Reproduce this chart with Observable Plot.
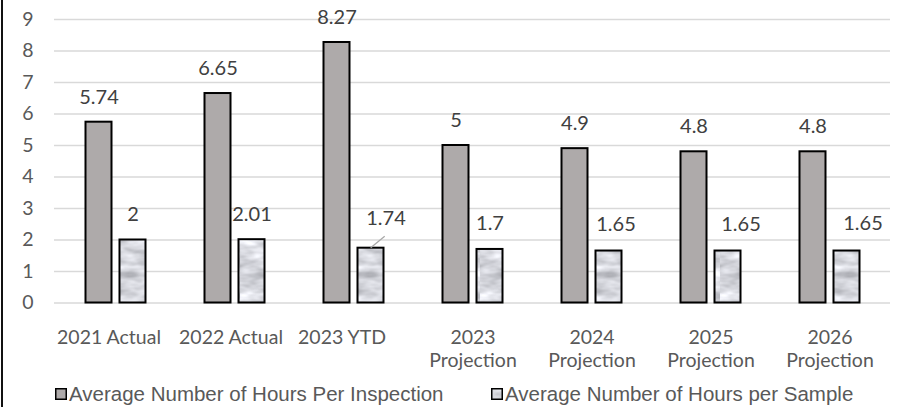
<!DOCTYPE html>
<html>
<head>
<meta charset="utf-8">
<script src="https://cdn.jsdelivr.net/npm/d3@7"></script>
<script src="https://cdn.jsdelivr.net/npm/@observablehq/plot@0.6"></script>
<style>
  html, body { margin: 0; padding: 0; background: #fff; }
  #wrap { position: relative; width: 903px; height: 407px; overflow: hidden; background: #fff; }
  #border { position: absolute; left: 1px; top: 0; width: 2px; height: 407px; background: #111; }
  #chart { position: absolute; left: 0; top: 0; }
  #legend { position: absolute; left: 0; top: 375px; width: 903px; height: 32px; font-family: "Liberation Sans", Arial, sans-serif; font-size: 20.5px; color: #595959; }
  .item { position: absolute; top: 0; height: 32px; line-height: 37px; white-space: nowrap; }
  .item svg { position: absolute; left: 0; top: 13px; }
  .item span { position: absolute; left: 14px; top: 0; }
</style>
</head>
<body>
<svg width="0" height="0" style="position:absolute">
  <defs>
    <filter id="marbleNoise" x="0" y="0" width="100%" height="100%" color-interpolation-filters="sRGB">
      <feTurbulence type="fractalNoise" baseFrequency="0.035 0.09" numOctaves="3" seed="7"/>
      <feColorMatrix type="matrix" values="0.55 0 0 0 0.57  0.55 0 0 0 0.575  0.55 0 0 0 0.6  0 0 0 0 1"/>
    </filter>
    <pattern id="marble" patternUnits="userSpaceOnUse" width="80" height="160">
      <rect width="80" height="160" fill="#e2e2e6" filter="url(#marbleNoise)"/>
    </pattern>
  </defs>
</svg>
<div id="wrap">
  <div id="chart"></div>
  <div id="border"></div>
  <div id="legend"></div>
</div>
<script>
const categories = ["2021 Actual", "2022 Actual", "2023 YTD", "2023 Projection", "2024 Projection", "2025 Projection", "2026 Projection"];
const categoryLabels = ["2021 Actual", "2022 Actual", "2023 YTD", "2023\nProjection", "2024\nProjection", "2025\nProjection", "2026\nProjection"];
const hoursPerInspection = [5.74, 6.65, 8.27, 5, 4.9, 4.8, 4.8];
const hoursPerSample = [2, 2.01, 1.74, 1.7, 1.65, 1.65, 1.65];
const seriesNames = ["Average Number of Hours Per Inspection", "Average Number of Hours per Sample"];
const yTicks = [0, 1, 2, 3, 4, 5, 6, 7, 8, 9];

// styling / layout
const fillInspection = "#aeaaaa";
const fillSample = "url(#marble)";
const idx = categories.map((_, i) => i);
// manual label nudges [dx, dy] for the sample series (as placed in the original)
const sampleNudge = [[0, -25], [0, -25], [15, -30], [0, -26], [7, -26], [13, -26], [16, -27]];
// horizontal nudges of the category labels (as placed in the original)
const categoryNudge = [-7, -4, -12, 0, 0, 0, 0];

const sampleLabelMarks = idx.map(i => Plot.text([i], {
  x: j => categories[j],
  y: j => hoursPerSample[j],
  text: j => String(hoursPerSample[j]),
  dx: 17 + sampleNudge[i][0],
  dy: sampleNudge[i][1],
  fill: "#404040",
  fontSize: 20
}));

const categoryLabelMarks = idx.map(i => Plot.text([i], {
  x: j => categories[j],
  text: j => categoryLabels[j],
  frameAnchor: "bottom",
  lineAnchor: "top",
  lineHeight: 1.18,
  dx: categoryNudge[i],
  dy: 24.5,
  fill: "#595959"
}));

const plot = Plot.plot({
  width: 903,
  height: 375,
  marginLeft: 54,
  marginRight: 13,
  marginTop: 19,
  marginBottom: 72.5,
  style: { fontFamily: "Lato, sans-serif", fontSize: "19.5px", color: "#595959", background: "transparent" },
  x: { type: "band", domain: categories, padding: 0, axis: null },
  y: { domain: [0, 9], ticks: yTicks, tickSize: 0, tickPadding: 21, label: null, tickFormat: d => String(d) },
  marks: [
    Plot.gridY(yTicks, { stroke: "#d9d9d9", strokeOpacity: 1, strokeWidth: 1.6 }),
    Plot.barY(idx, {
      x: i => categories[i], y: i => hoursPerInspection[i],
      fill: fillInspection, stroke: "#000", strokeWidth: 2,
      insetLeft: 29.5, insetRight: 63.5
    }),
    Plot.barY(idx, {
      x: i => categories[i], y: i => hoursPerSample[i],
      fill: fillSample, stroke: "#000", strokeWidth: 2,
      insetLeft: 63.5, insetRight: 29.5
    }),
    Plot.text(idx, {
      x: i => categories[i], y: i => hoursPerInspection[i],
      text: i => String(hoursPerInspection[i]),
      dx: -17, dy: -25, fill: "#404040", fontSize: 20
    }),
    ...sampleLabelMarks,
    ...categoryLabelMarks
  ]
});
document.getElementById("chart").appendChild(plot);

// leader line for the moved "1.74" label, placed through the plot's scales
{
  const sx = plot.scale("x"), sy = plot.scale("y");
  const k = categories.indexOf("2023 YTD");
  const x0 = sx.apply(categories[k]) + 63.5 + 13.2;
  const y0 = sy.apply(hoursPerSample[k]);
  d3.select(plot).append("line")
    .attr("x1", x0).attr("y1", y0)
    .attr("x2", x0 + 14).attr("y2", y0 - 11.5)
    .attr("stroke", "#a6a6a6").attr("stroke-width", 1.2);
}

// legend
const legend = document.getElementById("legend");
const legendFills = [fillInspection, fillSample];
const legendLeft = [55, 491];
seriesNames.forEach((name, i) => {
  const item = document.createElement("div");
  item.className = "item";
  item.style.left = legendLeft[i] + "px";
  item.innerHTML = `<svg width="12" height="12"><rect x="0.75" y="0.75" width="10.5" height="10.5" fill="${legendFills[i]}" stroke="#000" stroke-width="1.5"/></svg><span>${name}</span>`;
  legend.appendChild(item);
});
</script>
</body>
</html>
